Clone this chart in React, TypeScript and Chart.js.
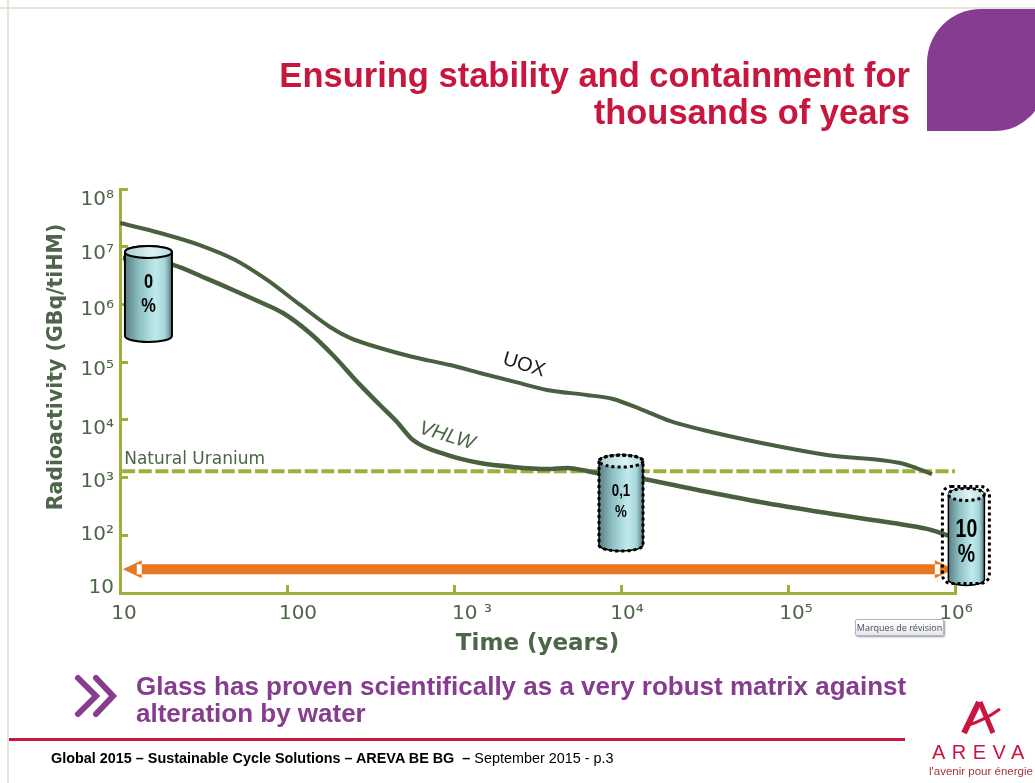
import React, { useEffect, useRef } from "react";
import { Chart, registerables } from "chart.js";

Chart.register(...registerables);

const xTickValues = [10, 100, 1000, 10000, 100000, 1000000];
const xTickLabels = ["10", "100", "10 ³", "10⁴", "10⁵", "10⁶"];
const yTickValues = [10, 100, 1000, 1e4, 1e5, 1e6, 1e7, 1e8];
const yTickLabels = ["10", "10²", "10³", "10⁴", "10⁵", "10⁶", "10⁷", "10⁸"];

const uoxTime = [10, 17.4, 30, 49, 76, 120, 181, 238, 360, 568, 947, 1430, 2320, 3610, 6250, 8950, 13000, 19600, 31000, 56800, 85900, 171000, 469000, 561000, 728000];
const uoxValue = [2.58e7, 1.73e7, 1.07e7, 5.9e6, 2.66e6, 9.8e5, 4.07e5, 2.63e5, 1.76e5, 1.23e5, 8.9e4, 6.5e4, 4.54e4, 3.3e4, 2.7e4, 2.3e4, 1.55e4, 9570, 6680, 4490, 3530, 2470, 1790, 1530, 1150];

const vhlwTime = [10.4, 15.1, 20.8, 32.3, 47.5, 68.9, 94.6, 137, 188, 274, 360, 456, 568, 908, 1430, 2250, 3610, 4750, 7180, 13600, 27000, 67900, 171000, 425000, 679000, 934000];
const vhlwValue = [6.4e6, 5.67e6, 4.84e6, 2.88e6, 1.78e6, 1.1e6, 7.1e5, 3.2e5, 1.33e5, 4.03e4, 1.81e4, 9200, 4480, 2470, 1790, 1530, 1410, 1470, 1200, 946, 634, 378, 243, 163, 129, 97];

const uraniumTime = [10.3, 1000000];
const uraniumValue = [1285, 1285];

const arrowTime = [13.5, 758000];
const arrowValue = [25.7, 25.7];

const cylinderTime = [14.8, 10000, 1170000];
const cylinderValue = [1.46e6, 347, 90];
const cylinderLabel = ["0", "0,1", "10"];

const noteText = ["Natural Uranium", "UOX", "VHLW"];
const noteTime = [10.6, 2624, 908];
const noteValue = [2018, 89000, 5260];

const titleLines = ["Ensuring stability and containment for", "thousands of years"];
const yAxisTitle = "Radioactivity (GBq/tiHM)";
const xAxisTitle = "Time (years)";

const AXIS = "#9eb03a";
const CURVE = "#48603f";
const LABEL = "#4d6548";
const RED = "#c8173f";
const PURPLE = "#863d8f";
const ORANGE = "#e87722";

const xLabelShift = [4, 11, 18, 6, 8, 1];
const yLabelShift = [-5, 0, 4, 9, 8, 5, 7, 11];

function cylinderPath(ctx: any, cx: number, top: number, bottom: number, w: number, e: number) {
  ctx.beginPath();
  ctx.moveTo(cx - w / 2, top);
  ctx.lineTo(cx - w / 2, bottom);
  ctx.ellipse(cx, bottom, w / 2, e, 0, Math.PI, 0, true);
  ctx.lineTo(cx + w / 2, top);
  ctx.ellipse(cx, top, w / 2, e, 0, 0, Math.PI, true);
  ctx.closePath();
}

function drawCylinder(ctx: any, i: number, cx: number, cy: number) {
  const w = [47, 44, 36][i];
  const h = [86, 86, 87][i];
  const e = 6;
  const top = cy - h / 2;
  const bottom = cy + h / 2 - 2;
  ctx.save();
  const g = ctx.createLinearGradient(cx - w / 2, 0, cx + w / 2, 0);
  g.addColorStop(0, "#5a7f82");
  g.addColorStop(0.3, "#8dbfc2");
  g.addColorStop(0.65, "#c0eaec");
  g.addColorStop(0.85, "#a6d6d9");
  g.addColorStop(1, "#55797d");
  ctx.fillStyle = g;
  cylinderPath(ctx, cx, top, bottom, w, e);
  ctx.fill();
  ctx.strokeStyle = "#000";
  ctx.lineWidth = i === 0 ? 2 : 1.5;
  ctx.stroke();
  ctx.beginPath();
  ctx.ellipse(cx, top, w / 2, e, 0, 0, Math.PI * 2);
  const t = ctx.createLinearGradient(cx - w / 2, 0, cx + w / 2, 0);
  t.addColorStop(0, "#a9cfd2");
  t.addColorStop(0.6, "#dff3f5");
  t.addColorStop(1, "#b5dadd");
  ctx.fillStyle = t;
  ctx.fill();
  if (i > 0) {
    ctx.setLineDash([3, 3]);
    ctx.lineWidth = 3;
  }
  ctx.stroke();
  if (i === 1) {
    cylinderPath(ctx, cx, top, bottom, w, e);
    ctx.stroke();
  }
  if (i === 2) {
    ctx.beginPath();
    ctx.roundRect(cx - 24, top - 8, 47, 97, 9);
    ctx.stroke();
  }
  ctx.setLineDash([]);
  const size = [21, 17, 25][i];
  const gap = [24, 21, 25][i];
  const textY = [cy - 13, cy - 13, cy - 8][i];
  ctx.fillStyle = "#000";
  ctx.textAlign = "center";
  ctx.textBaseline = "middle";
  ctx.font = `bold ${size}px "Liberation Sans"`;
  [cylinderLabel[i], "%"].forEach((s, k) => {
    ctx.save();
    ctx.translate(cx, textY + k * gap);
    ctx.scale(0.78, 1);
    ctx.fillText(s, 0, 0);
    ctx.restore();
  });
  ctx.restore();
}

function arrowHead(ctx: any, baseX: number, y: number, dir: number) {
  const len = 19;
  const half = 9;
  ctx.save();
  ctx.fillStyle = ORANGE;
  ctx.beginPath();
  ctx.moveTo(baseX, y - half);
  ctx.lineTo(baseX + dir * len, y);
  ctx.lineTo(baseX, y + half);
  ctx.closePath();
  ctx.fill();
  ctx.fillStyle = "#fff";
  ctx.fillRect(dir > 0 ? baseX : baseX - 5, y - 5, 5, 10);
  ctx.restore();
}

const slidePlugin = {
  id: "slide",
  afterLayout(chart: any) {
    if (chart.titleBlock) chart.titleBlock.right = 910;
    chart.scales.y.getLabelItems().forEach((item: any, i: number) => {
      item.options.translation[1] += yLabelShift[i];
    });
    chart.scales.x.getLabelItems().forEach((item: any, i: number) => {
      item.options.translation[0] += xLabelShift[i];
    });
  },
  afterDraw(chart: any) {
    const { ctx, scales } = chart;
    const { x, y } = scales;
    ctx.save();
    const ay = y.getPixelForValue(arrowValue[0]);
    arrowHead(ctx, x.getPixelForValue(arrowTime[0]), ay, -1);
    arrowHead(ctx, x.getPixelForValue(arrowTime[1]), ay, 1);
    noteText.forEach((text, i) => {
      const px = x.getPixelForValue(noteTime[i]);
      const py = y.getPixelForValue(noteValue[i]);
      ctx.save();
      ctx.translate(px, py);
      ctx.textBaseline = "middle";
      if (i === 0) {
        ctx.textAlign = "left";
        ctx.fillStyle = LABEL;
        ctx.font = '17px "DejaVu Sans"';
      } else {
        ctx.rotate((17 * Math.PI) / 180);
        ctx.textAlign = "center";
        ctx.fillStyle = i === 1 ? "#1b1b1b" : LABEL;
        ctx.font = (i === 1 ? "" : "italic ") + '20px "Liberation Sans"';
      }
      ctx.fillText(text, 0, 0);
      ctx.restore();
    });
    ctx.save();
    ctx.translate(57, 367);
    ctx.rotate(-Math.PI / 2);
    ctx.textAlign = "center";
    ctx.textBaseline = "middle";
    ctx.fillStyle = LABEL;
    ctx.font = 'bold 20.5px "DejaVu Sans"';
    ctx.fillText(yAxisTitle, 0, 0);
    ctx.restore();
    cylinderLabel.forEach((_, i) => {
      drawCylinder(ctx, i, x.getPixelForValue(cylinderTime[i]), y.getPixelForValue(cylinderValue[i]));
    });
    ctx.restore();
  },
};

const line = (label: string, xs: number[], ys: number[], extra: any) => ({
  label,
  data: xs.map((t, i) => ({ x: t, y: ys[i] })),
  pointRadius: 0,
  fill: false,
  ...extra,
});

export default function App() {
  const ref = useRef<HTMLCanvasElement>(null);
  useEffect(() => {
    const chart = new Chart(ref.current as any, {
      type: "line",
      data: {
        datasets: [
          line("UOX", uoxTime, uoxValue, { borderColor: CURVE, borderWidth: 4, cubicInterpolationMode: "monotone", order: 1 }),
          line("VHLW", vhlwTime, vhlwValue, { borderColor: CURVE, borderWidth: 4.5, cubicInterpolationMode: "monotone", order: 1 }),
          line("Natural Uranium", uraniumTime, uraniumValue, { borderColor: AXIS, borderWidth: 4, borderDash: [13, 3.6], order: 2 }),
          line("Arrow", arrowTime, arrowValue, { borderColor: ORANGE, borderWidth: 10, order: 2 }),
        ],
      },
      options: {
        responsive: false,
        animation: false,
        events: [],
        clip: false,
        layout: { padding: { left: 0, right: 80, top: 0, bottom: 123 } },
        plugins: {
          legend: { display: false },
          tooltip: { enabled: false },
          title: {
            display: true,
            text: titleLines,
            align: "end",
            color: RED,
            font: { family: '"Liberation Sans"', weight: "bold", size: 34.5, lineHeight: "37px" },
            padding: { top: 59, bottom: 56 },
          },
        },
        scales: {
          x: {
            type: "logarithmic",
            min: 10,
            max: 1000000,
            afterFit: (s: any) => { s.height = 67; },
            afterBuildTicks: (s: any) => { s.ticks = xTickValues.map((value) => ({ value, major: true })); },
            grid: { drawOnChartArea: false, drawTicks: true, tickLength: -8, tickColor: AXIS, tickWidth: 3 },
            border: { color: AXIS, width: 3 },
            ticks: {
              autoSkip: false,
              maxRotation: 0,
              padding: 17,
              color: LABEL,
              font: { family: '"DejaVu Sans"', size: 20 },
              callback: (_: any, i: number) => xTickLabels[i],
            },
            title: {
              display: true,
              text: xAxisTitle,
              color: LABEL,
              font: { family: '"DejaVu Sans"', weight: "bold", size: 23, lineHeight: 1.2 },
              padding: { top: 0, bottom: 2 },
            },
          },
          y: {
            type: "logarithmic",
            min: 10,
            max: 1e8,
            afterFit: (s: any) => { s.width = 120; },
            afterBuildTicks: (s: any) => { s.ticks = yTickValues.map((value) => ({ value, major: true })); },
            grid: { drawOnChartArea: false, drawTicks: true, tickLength: -8, tickColor: AXIS, tickWidth: 3 },
            border: { color: AXIS, width: 3 },
            ticks: {
              autoSkip: false,
              padding: 14,
              color: LABEL,
              font: { family: '"DejaVu Sans"', size: 20 },
              callback: (_: any, i: number) => yTickLabels[i],
            },
          },
        },
      } as any,
      plugins: [slidePlugin],
    });
    return () => chart.destroy();
  }, []);

  const abs = (o: React.CSSProperties): React.CSSProperties => ({ position: "absolute", ...o });
  return (
    <div style={{ position: "absolute", left: 0, top: 0, width: 1035, height: 783, overflow: "hidden", background: "#fff", fontFamily: '"Liberation Sans"' }}>
      <div style={abs({ left: 7, top: 0, width: 2, height: 783, background: "#e8e4d8" })} />
      <div style={abs({ left: 0, top: 7, width: 1035, height: 2, background: "#e8e4d8" })} />
      <div style={abs({ left: 927, top: 9, width: 118, height: 122, background: PURPLE, borderRadius: "54px 0 50px 0" })} />
      <canvas ref={ref} width={1035} height={783} style={abs({ left: 0, top: 0, display: "block" })} />
      <svg width={1035} height={783} style={abs({ left: 0, top: 0, pointerEvents: "none" })}>
        <g fill="none" stroke={PURPLE} strokeWidth={6} strokeLinecap="round" strokeLinejoin="miter">
          <polyline points="78,678 96,696 78,714" />
          <polyline points="96,678 113,696 96,714" />
        </g>
        <g fill="none" stroke={RED} strokeLinecap="butt">
          <path d="M979,702 L964,733" strokeWidth={6} />
          <path d="M980,702 L993,733" strokeWidth={5} />
          <path d="M966,726 Q985,720 1000,709" strokeWidth={3} />
        </g>
      </svg>
      <div style={abs({ left: 136, top: 673, color: PURPLE, fontWeight: "bold", fontSize: 26, lineHeight: "27px", whiteSpace: "nowrap" })}>
        Glass has proven scientifically as a very robust matrix against
        <br />
        alteration by water
      </div>
      <div style={abs({ left: 9, top: 738, width: 896, height: 3, background: RED })} />
      <div style={abs({ left: 51, top: 750, fontSize: 14.4, lineHeight: "16px", color: "#000", whiteSpace: "pre" })}>
        <b>Global 2015 – Sustainable Cycle Solutions – AREVA BE BG  – </b>September 2015 - p.3
      </div>
      <div style={abs({ left: 855, top: 619, width: 89, height: 17, boxSizing: "border-box", border: "1px solid #b4b7c0", borderRadius: 2, background: "linear-gradient(#fff,#e6e8ee)", boxShadow: "1px 1px 2px #999", font: '9px/15px "Open Sans"', color: "#4a4f60", textAlign: "center", whiteSpace: "nowrap" })}>
        Marques de révision
      </div>
      <div style={abs({ left: 932, top: 741, width: 100, color: RED, fontSize: 20, lineHeight: "22px", letterSpacing: 6.5, whiteSpace: "nowrap" })}>AREVA</div>
      <div style={abs({ left: 929, top: 764, color: "#a8323f", fontSize: 11.5, lineHeight: "14px", whiteSpace: "nowrap" })}>l'avenir pour énergie</div>
    </div>
  );
}
